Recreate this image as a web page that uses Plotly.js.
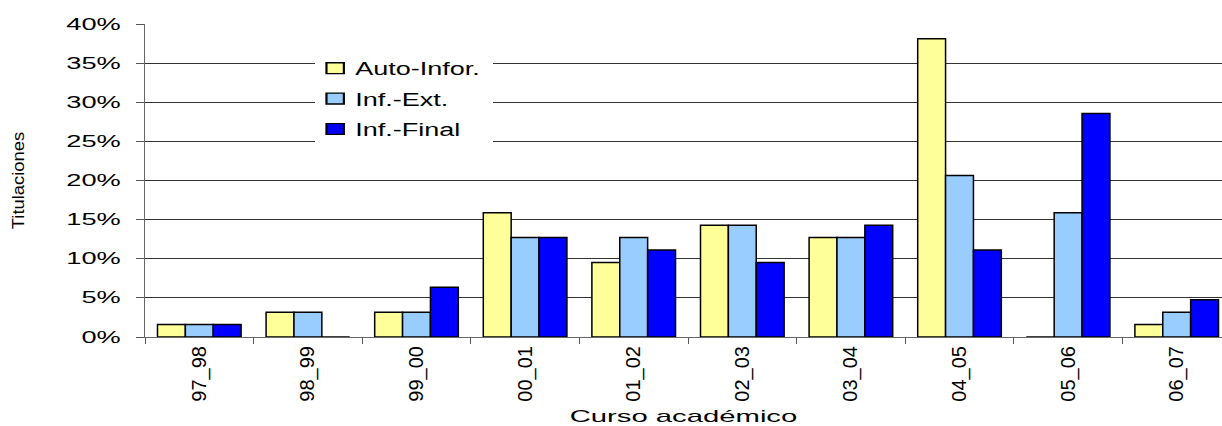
<!DOCTYPE html>
<html><head><meta charset="utf-8">
<script src="https://cdn.plot.ly/plotly-3.0.1.min.js"></script>
<style>html,body{margin:0;padding:0;background:#fff}</style>
</head><body>
<div id="chart" style="width:1222px;height:426px"></div>
<script>
const categories = ['97_98','98_99','99_00','00_01','01_02','02_03','03_04','04_05','05_06','06_07'];
const autoInfor = [1.59, 3.17, 3.17, 15.87, 9.52, 14.29, 12.70, 38.10, 0, 1.59];
const infExt    = [1.59, 3.17, 3.17, 12.70, 12.70, 14.29, 12.70, 20.63, 15.87, 3.17];
const infFinal  = [1.59, 0, 6.35, 12.70, 11.11, 9.52, 14.29, 11.11, 28.57, 4.76];
const seriesNames = ['Auto-Infor.', 'Inf.-Ext.', 'Inf.-Final'];
const yTickVals = [0, 5, 10, 15, 20, 25, 30, 35, 40];
const yTickText = ['0%', '5%', '10%', '15%', '20%', '25%', '30%', '35%', '40%'];
const xTitle = 'Curso académico';
const yTitle = 'Titulaciones';

const FONT = 'Liberation Sans, Arial, sans-serif';
const colors = ['#FFFF99', '#99CCFF', '#0000FF'];
const seriesValues = [autoInfor, infExt, infFinal];

const traces = seriesValues.map((vals, i) => ({
  type: 'bar',
  name: seriesNames[i],
  x: categories,
  y: vals,
  legendgroup: 'g' + i,
  marker: {color: colors[i], line: {color: '#000000', width: 1.5}},
  hoverinfo: 'x+y+name'
}));

const layout = {
  width: 1222, height: 426,
  margin: {l: 145, r: 0, t: 24, b: 89},
  paper_bgcolor: '#ffffff', plot_bgcolor: '#ffffff',
  barmode: 'group', bargap: 0.23, bargroupgap: 0,
  font: {family: FONT, color: '#000000'},
  xaxis: {
    type: 'category',
    range: [-0.5, 9.417],
    tickangle: -90,
    tickfont: {family: FONT, size: 20, color: '#000'},
    ticks: 'outside', ticklen: 6, tickcolor: '#555', tickson: 'boundaries',
    showline: true, linecolor: '#666', linewidth: 1,
    showgrid: false,
    title: {text: xTitle, font: {family: FONT, size: 17, color: '#000'}, standoff: 11}
  },
  yaxis: {
    range: [0, 40],
    tickmode: 'array',
    tickvals: yTickVals,
    ticktext: yTickText,
    tickfont: {family: FONT, size: 16, color: '#000'},
    ticks: 'outside', ticklen: 8, tickcolor: '#555',
    ticklabelstandoff: 12,
    showline: true, linecolor: '#666', linewidth: 1,
    showgrid: true, gridcolor: '#333333', gridwidth: 1,
    zeroline: false,
    title: {text: yTitle, font: {family: FONT, size: 16, color: '#000'}, standoff: 60}
  },
  legend: {
    x: 0.158, y: 0.917, xanchor: 'left', yanchor: 'top',
    bgcolor: '#ffffff', borderwidth: 0,
    font: {family: FONT, size: 18, color: '#000'},
    traceorder: 'grouped', tracegroupgap: 4
  },
  showlegend: true
};

function stretch(nodes, factor) {
  nodes.forEach(function (n) {
    const w = n.getComputedTextLength();
    if (w > 0) {
      n.setAttribute('textLength', (w * factor).toFixed(1));
      n.setAttribute('lengthAdjust', 'spacingAndGlyphs');
    }
  });
}

Plotly.newPlot('chart', traces, layout, {displayModeBar: false, staticPlot: true}).then(function (gd) {
  stretch(gd.querySelectorAll('.ytick text'), 1.7);
  stretch(gd.querySelectorAll('.legendtext'), 1.5);
  stretch(gd.querySelectorAll('.g-xtitle text'), 1.72);
  stretch(gd.querySelectorAll('.g-ytitle text'), 1.15);
  gd.querySelectorAll('.legend .scrollbox, .legend [clip-path]').forEach(function (el) {
    el.removeAttribute('clip-path');
  });
  const bg = gd.querySelector('.legend rect.bg');
  if (bg) bg.setAttribute('width', 178);
  gd.querySelectorAll('.legend .legendpoints path').forEach(function (p) {
    const t = p.getAttribute('transform') || '';
    p.setAttribute('transform', t + ' scale(1.45,0.9)');
  });
});
</script>
</body></html>
